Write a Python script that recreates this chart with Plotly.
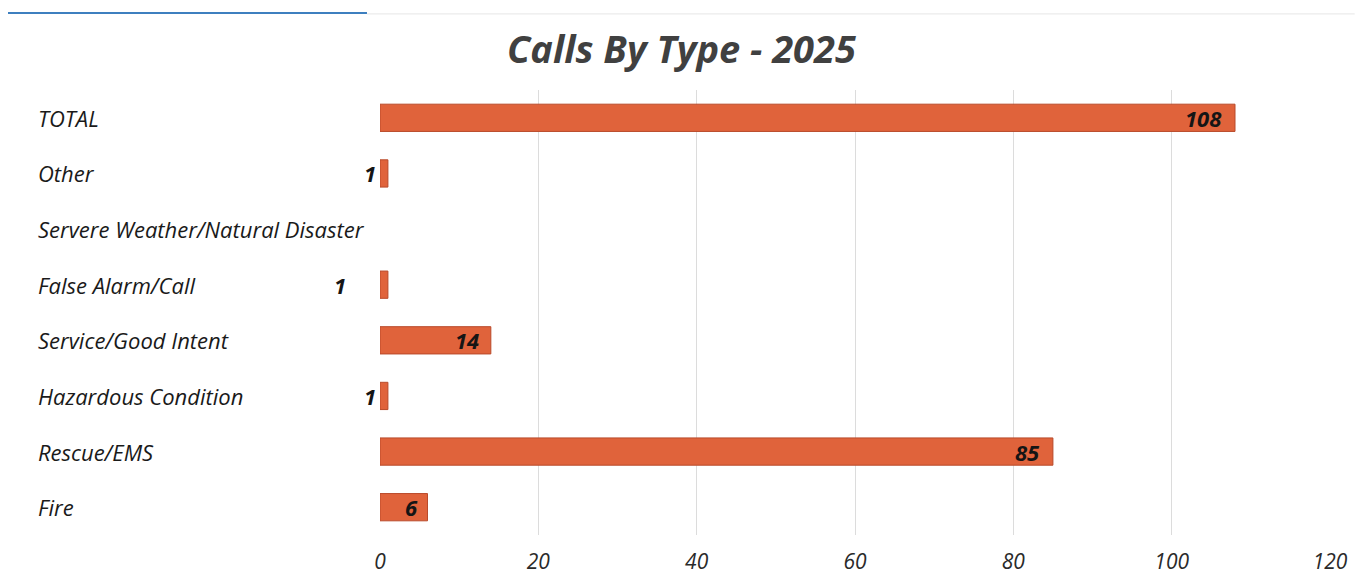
import plotly.graph_objects as go

categories = ["TOTAL", "Other", "Servere Weather/Natural Disaster", "False Alarm/Call",
              "Service/Good Intent", "Hazardous Condition", "Rescue/EMS", "Fire"]
values = [108, 1, 0, 1, 14, 1, 85, 6]
value_labels = ["108", "1", "", "1", "14", "1", "85", "6"]
label_shift = [-11, -10, 0, -40, -10, -10, -11, -8]
x_ticks = [0, 20, 40, 60, 80, 100, 120]

FONT = "Open Sans"

fig = go.Figure()
fig.add_trace(go.Bar(
    x=values, y=categories, orientation="h",
    marker=dict(color="#E0633B",
                line=dict(color="#B94A2A", width=[0 if v == 0 else 1 for v in values])),
    width=0.49, hoverinfo="x+y",
))

annotations = []
for c, v, t, s in zip(categories, values, value_labels, label_shift):
    if t:
        annotations.append(dict(x=v, y=c, xref="x", yref="y", text="<b><i>%s</i></b>" % t,
                                showarrow=False, xanchor="right", xshift=s,
                                font=dict(family=FONT, size=22, color="#151515")))
    annotations.append(dict(x=-0.3621, y=c, xref="paper", yref="y", text="<i>%s</i>" % c,
                            showarrow=False, xanchor="left",
                            font=dict(family=FONT, size=22, color="#1a1a1a")))

fig.update_layout(
    width=1347, height=566,
    margin=dict(l=372, r=25, t=82, b=39, autoexpand=False),
    paper_bgcolor="white", plot_bgcolor="white",
    showlegend=False,
    title=dict(text="<b><i>Calls By Type - 2025</i></b>", x=0.5, xanchor="center",
               y=0.927, yanchor="middle",
               font=dict(family=FONT, size=38, color="#404040")),
    xaxis=dict(range=[0, 120], tickvals=x_ticks, showgrid=True, gridcolor="#dcdcdc",
               gridwidth=1, zeroline=False, showline=False, ticks="", automargin=False,
               tickfont=dict(family=FONT, size=21, color="#2a2a2a", style="italic"),
               ticklabelstandoff=12),
    yaxis=dict(autorange="reversed", showticklabels=False, showgrid=False, automargin=False,
               zeroline=False, showline=False, ticks=""),
    annotations=annotations,
    shapes=[
        dict(type="line", xref="paper", yref="paper", x0=-0.3916, x1=-0.0137, y0=1.173, y1=1.173,
             line=dict(color="#3d7fbf", width=2)),
        dict(type="line", xref="paper", yref="paper", x0=-0.0137, x1=1.026, y0=1.171, y1=1.171,
             line=dict(color="#e6e6e6", width=1)),
    ],
)

fig.write_html("out.html")
